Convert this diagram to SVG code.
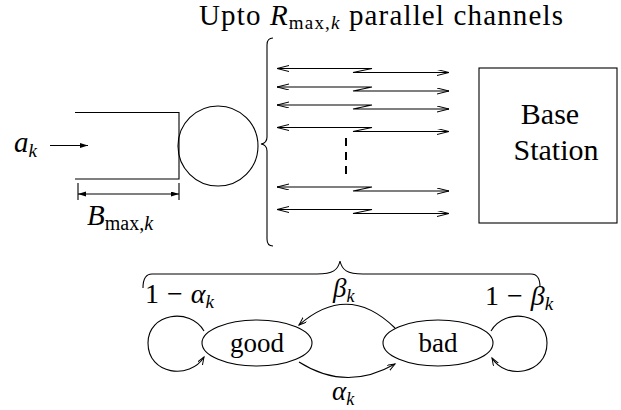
<svg xmlns="http://www.w3.org/2000/svg" width="621" height="410" viewBox="0 0 621 410">
<style>
.ln{fill:none;stroke:#000;stroke-width:1.1}
text{font-family:"Liberation Serif","Times New Roman","DejaVu Serif",serif;fill:#000}
.i{font-style:italic}
</style>
<defs>
<marker id="openA" markerUnits="userSpaceOnUse" markerWidth="14" markerHeight="8" refX="12" refY="3" orient="auto-start-reverse" viewBox="0 0 14 8"><path d="M0 0 L12 3 L0 6" fill="none" stroke="#000" stroke-width="1"/></marker>
<marker id="smallA" markerUnits="userSpaceOnUse" markerWidth="10" markerHeight="8" refX="8" refY="3" orient="auto" viewBox="0 0 10 8"><path d="M0 0 L8 3 L0 6" fill="none" stroke="#000" stroke-width="1"/></marker>
<marker id="fillA" markerUnits="userSpaceOnUse" markerWidth="9" markerHeight="6" refX="8" refY="2.5" orient="auto-start-reverse" viewBox="0 0 9 6"><path d="M0 0 L8 2.5 L0 5 Z" fill="#000"/></marker>
</defs>
<text x="199" y="25" font-size="29" textLength="364" lengthAdjust="spacing">Upto <tspan class="i">R</tspan><tspan font-size="19" dy="4">max,</tspan><tspan class="i" font-size="19">k</tspan><tspan dy="-4"> parallel channels</tspan></text>
<g id="queue">
<path class="ln" d="M75 112.5 H179 V179 H75"/>
<circle class="ln" cx="218" cy="146" r="40"/>
</g>
<g id="input">
<text class="i" x="14" y="152" font-size="29">a<tspan font-size="19" dy="5">k</tspan></text>
<line class="ln" x1="50" y1="145.5" x2="88" y2="145.5" marker-end="url(#fillA)"/>
</g>
<g id="buffer-size">
<path class="ln" d="M78 183 V200 M179 183 V200"/>
<line class="ln" x1="78" y1="194" x2="179" y2="194" marker-start="url(#fillA)" marker-end="url(#fillA)"/>
<text x="87" y="225" font-size="29"><tspan class="i">B</tspan><tspan font-size="20" dy="5">max,</tspan><tspan class="i" font-size="20">k</tspan></text>
</g>
<g id="brace-channels">
<path class="ln" d="M273 38 Q267 38 267 45 L267 137 Q267 143 261 144 Q267 145 267 151 L267 239 Q267 246 273 246"/>
</g>
<g id="base-station">
<rect class="ln" x="479" y="68" width="138" height="155"/>
<text x="550" y="124" font-size="30" text-anchor="middle">Base</text>
<text x="556" y="160" font-size="30" text-anchor="middle">Station</text>
</g>
<g id="connectors">
<path class="ln" d="M277 68.5 H372 L353 72.5 H449" marker-start="url(#openA)" marker-end="url(#openA)"/>
<path class="ln" d="M277 87 H372 L353 91 H449" marker-start="url(#openA)" marker-end="url(#openA)"/>
<path class="ln" d="M277 105 H372 L353 109 H449" marker-start="url(#openA)" marker-end="url(#openA)"/>
<path class="ln" d="M277 127.5 H372 L353 131.5 H449" marker-start="url(#openA)" marker-end="url(#openA)"/>
<path class="ln" d="M277 187 H372 L353 191 H449" marker-start="url(#openA)" marker-end="url(#openA)"/>
<path class="ln" d="M277 209.5 H372 L353 213.5 H449" marker-start="url(#openA)" marker-end="url(#openA)"/>
<line x1="346" y1="138" x2="346" y2="176" stroke="#000" stroke-width="2" stroke-dasharray="8 6"/>
<path class="ln" d="M395 328 Q348 282 299 325" marker-end="url(#smallA)"/>
<path class="ln" d="M299 362 Q346 392 395 364" marker-end="url(#smallA)"/>
<path class="ln" d="M204 331 C190 307 148 313 148 343 C148 375 190 380 204 357" marker-end="url(#smallA)"/>
<path class="ln" d="M491 331 C505 307 547 313 547 343 C547 375 505 380 492 358" marker-end="url(#smallA)"/>
</g>
<g id="brace-states">
<path class="ln" d="M143 288 Q143 274 152 274 L317 274 C333 274 338 270 340 261 C342 270 347 274 363 274 L531 274 Q540 274 540 287"/>
</g>
<g id="good">
<ellipse class="ln" cx="257" cy="343" rx="55" ry="23"/>
<text x="257" y="352" font-size="27" text-anchor="middle">good</text>
</g>
<g id="bad">
<ellipse class="ln" cx="438" cy="343" rx="55" ry="23"/>
<text x="438" y="352" font-size="27" text-anchor="middle">bad</text>
</g>
<g id="labels">
<text x="145" y="303" font-size="28">1<tspan dx="8">−</tspan><tspan class="i" dx="8">α</tspan><tspan class="i" font-size="19" dy="5">k</tspan></text>
<text x="485" y="305" font-size="28">1<tspan dx="8">−</tspan><tspan class="i" dx="8">β</tspan><tspan class="i" font-size="19" dy="5">k</tspan></text>
<text class="i" x="333" y="297" font-size="27">β<tspan font-size="18" dy="5">k</tspan></text>
<text class="i" x="332" y="400" font-size="27">α<tspan font-size="18" dy="5">k</tspan></text>
</g>
</svg>
